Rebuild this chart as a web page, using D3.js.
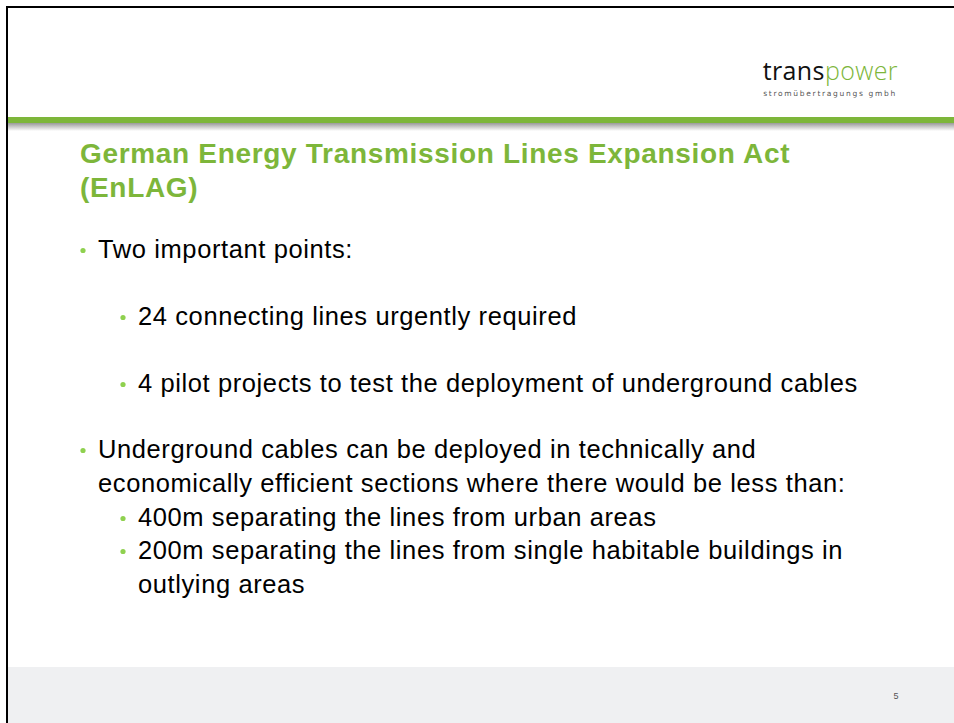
<!DOCTYPE html>
<html>
<head>
<meta charset="utf-8">
<script src="https://cdn.jsdelivr.net/npm/d3@7"></script>
<style>
  html, body { margin: 0; padding: 0; background: #fff; }
  svg { display: block; }
</style>
</head>
<body>
<div id="slide"></div>
<script>
// slide content
var titleLines = ["German Energy Transmission Lines Expansion Act", "(EnLAG)"]
var bulletTexts = [
	["Two important points:"],
	["24 connecting lines urgently required"],
	["4 pilot projects to test the deployment of underground cables"],
	["Underground cables can be deployed in technically and", "economically efficient sections where there would be less than:"],
	["400m separating the lines from urban areas"],
	["200m separating the lines from single habitable buildings in", "outlying areas"]
]
var bulletLevels = [0, 1, 1, 0, 1, 1]
var logoParts = ["trans", "power"]
var logoSub = "stromübertragungs gmbh"
var pageNumber = "5"

;(function() {
	var width = 954
	var height = 723
	var green = "#7db63a"

	var svg = d3.select("#slide")
		.append("svg")
		.attr("width", width)
		.attr("height", height)

	var defs = svg.append("defs")
	var shade = defs.append("linearGradient")
		.attr("id", "shade")
		.attr("x1", 0).attr("y1", 0).attr("x2", 0).attr("y2", 1)
	shade.append("stop").attr("offset", "0%").attr("stop-color", "#9a9a9a")
	shade.append("stop").attr("offset", "100%").attr("stop-color", "#ffffff")

	// frame
	svg.append("rect")
		.attr("x", 8).attr("y", 667)
		.attr("width", width - 8).attr("height", height - 667)
		.attr("fill", "#eff0f2")
	svg.append("path")
		.attr("d", "M7," + height + "V7H" + width)
		.attr("fill", "none")
		.attr("stroke", "#000")
		.attr("stroke-width", 2)

	// green header bar with its shadow
	svg.append("rect")
		.attr("x", 8).attr("y", 123)
		.attr("width", width - 8).attr("height", 8)
		.attr("fill", "url(#shade)")
	svg.append("rect")
		.attr("x", 8).attr("y", 117)
		.attr("width", width - 8).attr("height", 6)
		.attr("fill", green)

	// logo
	var logo = svg.append("text")
		.attr("x", 898).attr("y", 80)
		.attr("text-anchor", "end")
		.style("font-family", "'Open Sans', 'Liberation Sans', sans-serif")
		.style("font-weight", 300)
		.style("font-size", "25px")
		.style("letter-spacing", "0.4px")
	logo.selectAll("tspan")
		.data(logoParts)
		.enter().append("tspan")
		.attr("fill", function(d, i) { return i === 0 ? "#111" : green })
		.style("font-weight", function(d, i) { return i === 0 ? 400 : 300 })
		.text(function(d) { return d })
	svg.append("text")
		.attr("x", 897).attr("y", 96)
		.attr("text-anchor", "end")
		.attr("fill", "#555")
		.style("font-family", "'DejaVu Sans', sans-serif")
		.style("font-size", "7.5px")
		.style("letter-spacing", "1.7px")
		.text(logoSub)

	// title
	svg.selectAll(".title")
		.data(titleLines)
		.enter().append("text")
		.attr("class", "title")
		.attr("x", 80)
		.attr("y", function(d, i) { return 163 + i * 34 })
		.attr("fill", green)
		.style("font-family", "'Liberation Sans', Arial, sans-serif")
		.style("font-weight", "bold")
		.style("font-size", "28px")
		.style("letter-spacing", "0.68px")
		.text(function(d) { return d })

	// bullets: y of first baseline of each item
	var itemY = [258, 325, 392, 458, 526, 559]
	var lineGap = 33.5
	var indent = d3.scaleOrdinal().domain([0, 1]).range([98, 138])

	var items = svg.selectAll(".item")
		.data(bulletTexts)
		.enter().append("g")
		.attr("class", "item")
		.attr("transform", function(d, i) { return "translate(" + indent(bulletLevels[i]) + "," + itemY[i] + ")" })

	items.append("circle")
		.attr("cx", -15)
		.attr("cy", -7.5)
		.attr("r", 2.6)
		.attr("fill", "#8fd14f")

	items.selectAll("text")
		.data(function(d) { return d })
		.enter().append("text")
		.attr("x", 0)
		.attr("y", function(d, j) { return j * lineGap })
		.attr("fill", "#000")
		.style("font-family", "'Liberation Sans', Arial, sans-serif")
		.style("font-size", "25.5px")
		.style("letter-spacing", "0.6px")
		.text(function(d) { return d })

	// page number
	svg.append("text")
		.attr("x", 896).attr("y", 699)
		.attr("text-anchor", "middle")
		.attr("fill", "#555")
		.style("font-family", "'Liberation Sans', Arial, sans-serif")
		.style("font-size", "9px")
		.text(pageNumber)

})();
</script>
</body>
</html>
